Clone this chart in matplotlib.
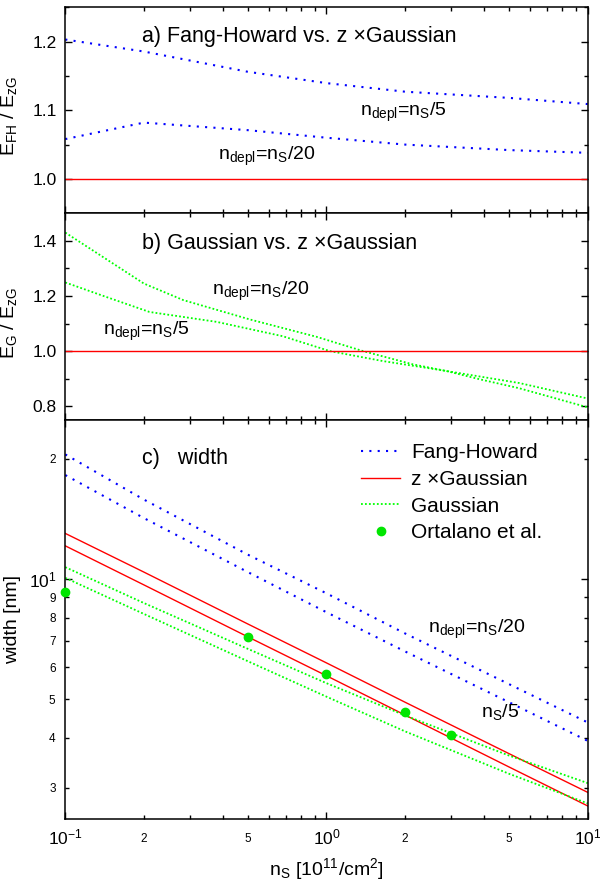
import numpy as np
import matplotlib
matplotlib.use("Agg")
import matplotlib.pyplot as plt
from matplotlib.ticker import FixedLocator, FuncFormatter, NullFormatter

plt.rcParams['font.family'] = ['Liberation Sans', 'DejaVu Sans']
plt.rcParams['mathtext.fontset'] = 'custom'
plt.rcParams['mathtext.rm'] = 'Liberation Sans'
plt.rcParams['mathtext.it'] = 'Liberation Sans:italic'
plt.rcParams['mathtext.default'] = 'regular'

# ---- data ----
# a) Fang-Howard / z x Gaussian energy ratio
ns_a = [0.1, 0.2, 0.5, 1, 2, 5, 10]
efh_5 = [1.203, 1.1855, 1.156, 1.1395, 1.127, 1.118, 1.109]
efh_20 = [1.058, 1.082, 1.071, 1.060, 1.050, 1.042, 1.038]

# b) Gaussian / z x Gaussian energy ratio
ns_b20 = [0.1, 0.2, 0.283, 0.508, 0.915, 1.38, 2.14, 2.87, 3.85, 5.48, 10]
eg_20 = [1.43, 1.245, 1.185, 1.115, 1.052, 1.0, 0.952, 0.928, 0.898, 0.865, 0.796]
ns_b5 = [0.1, 0.14, 0.21, 0.38, 0.68, 1.03, 1.64, 2.87, 5.48, 10]
eg_5 = [1.249, 1.20, 1.142, 1.106, 1.054, 1.0, 0.964, 0.928, 0.884, 0.828]

# c) widths [nm]
ns_c = [0.1, 0.2, 0.5, 1, 2, 5, 10]
fh_20 = [20.5, 15.8, 11.5, 9.2, 7.3, 5.45, 4.37]
fh_5 = [18.2, 14.2, 10.4, 8.25, 6.58, 4.91, 3.93]
zg_20 = [13.0, 10.4, 7.71, 6.16, 4.91, 3.65, 2.92]
zg_5 = [12.1, 9.66, 7.16, 5.72, 4.56, 3.38, 2.70]
g_20 = [10.7, 8.7, 6.68, 5.48, 4.55, 3.61, 3.08]
g_5 = [10.06, 8.17, 6.22, 5.07, 4.15, 3.25, 2.74]
ort_ns = [0.1, 0.5, 1, 2, 3]
ort_w = [9.26, 7.14, 5.77, 4.63, 4.07]

blue = '#0000ff'
red = '#ff0000'
green = '#00ff00'
blue_ls = (0, (1, 3))
green_ls = (0, (1, 1.2))

fig = plt.figure(figsize=(6, 8.82), dpi=100)
left, width = 0.1088, 0.8707
ax_a = fig.add_axes([left, 0.7582, width, 0.2336])
ax_b = fig.add_axes([left, 0.5238, width, 0.2344])
ax_c = fig.add_axes([left, 0.0711, width, 0.4527])

title_fs = 15.5
note_fs = 14

# panel a
ax_a.plot(ns_a, efh_5, color=blue, ls=blue_ls, lw=1.5)
ax_a.plot(ns_a, efh_20, color=blue, ls=blue_ls, lw=1.5)
ax_a.axhline(1.0, color=red, lw=1.0)
ax_a.set_ylim(0.95, 1.25)
ax_a.yaxis.set_major_locator(FixedLocator([1.0, 1.1, 1.2]))
ax_a.yaxis.set_minor_locator(FixedLocator([0.95, 1.05, 1.15, 1.25]))
ax_a.text(0.146, 0.857, 'a) Fang-Howard vs. z \u00d7Gaussian', transform=ax_a.transAxes,
          fontsize=title_fs, va='center', ha='left')
ax_a.text(1.34, 1.097, r'$n_{depl}$=$n_S$/5', fontsize=note_fs, va='center')
ax_a.text(0.384, 1.033, r'$n_{depl}$=$n_S$/20', fontsize=note_fs, va='center')
ax_a.set_ylabel(r'$E_{FH}$ / $E_{zG}$', fontsize=14)

# panel b
ax_b.plot(ns_b20, eg_20, color=green, ls=green_ls, lw=1.3)
ax_b.plot(ns_b5, eg_5, color=green, ls=green_ls, lw=1.3)
ax_b.axhline(1.0, color=red, lw=1.0)
ax_b.set_ylim(0.75, 1.5)
ax_b.yaxis.set_major_locator(FixedLocator([0.8, 1.0, 1.2, 1.4]))
ax_b.yaxis.set_minor_locator(FixedLocator([0.9, 1.1, 1.3]))
ax_b.text(0.146, 0.855, 'b) Gaussian vs. z \u00d7Gaussian', transform=ax_b.transAxes,
          fontsize=title_fs, va='center', ha='left')
ax_b.text(0.365, 1.216, r'$n_{depl}$=$n_S$/20', fontsize=note_fs, va='center')
ax_b.text(0.14, 1.072, r'$n_{depl}$=$n_S$/5', fontsize=note_fs, va='center')
ax_b.set_ylabel(r'$E_G$ / $E_{zG}$', fontsize=14)

# panel c
ax_c.plot(ns_c, fh_20, color=blue, ls=blue_ls, lw=1.5, label='Fang-Howard')
ax_c.plot(ns_c, fh_5, color=blue, ls=blue_ls, lw=1.5)
ax_c.plot(ns_c, zg_20, color=red, lw=1.0, label='z \u00d7Gaussian')
ax_c.plot(ns_c, zg_5, color=red, lw=1.0)
ax_c.plot(ns_c, g_20, color=green, ls=green_ls, lw=1.3, label='Gaussian')
ax_c.plot(ns_c, g_5, color=green, ls=green_ls, lw=1.3)
ax_c.plot(ort_ns, ort_w, 'o', color='#00e600', ms=6, ls='none',
          label='Ortalano et al.', clip_on=False, zorder=5)
ax_c.set_yscale('log')
ax_c.set_ylim(2.5, 25)
ax_c.yaxis.set_major_locator(FixedLocator([10]))
ax_c.yaxis.set_minor_locator(FixedLocator([3, 4, 5, 6, 7, 8, 9, 20]))
ax_c.yaxis.set_major_formatter(FuncFormatter(lambda v, p: r'$10^{1}$'))
ax_c.yaxis.set_minor_formatter(FuncFormatter(lambda v, p: '%d' % (v if v < 10 else v / 10)))
ax_c.text(0.146, 0.904, 'c)   width', transform=ax_c.transAxes,
          fontsize=title_fs, va='center', ha='left')
ax_c.text(2.45, 7.49, r'$n_{depl}$=$n_S$/20', fontsize=note_fs, va='center')
ax_c.text(3.90, 4.63, r'$n_S$/5', fontsize=note_fs, va='center')
ax_c.set_ylabel('width [nm]', fontsize=14)
ax_c.set_xlabel(r'$n_S$ [10$^{11}$/cm$^2$]', fontsize=14, labelpad=6)
leg = ax_c.legend(loc='upper left', bbox_to_anchor=(0.567, 0.9417), frameon=False,
                  fontsize=15, handlelength=1.85, handletextpad=0.53, labelspacing=0.37,
                  borderpad=0, borderaxespad=0)

for ax in (ax_a, ax_b, ax_c):
    ax.set_xscale('log')
    ax.set_xlim(0.1, 10)
    ax.xaxis.set_major_locator(FixedLocator([0.1, 1, 10]))
    ax.xaxis.set_minor_locator(FixedLocator([m * d for d in (0.1, 1) for m in range(2, 10)]))
    ax.tick_params(which='both', direction='in', top=True, right=True, width=1.0)
    ax.tick_params(which='major', length=5, labelsize=12.5, pad=6)
    ax.tick_params(which='minor', length=3, labelsize=8.5, pad=7)
    for s in ax.spines.values():
        s.set_linewidth(1.1)

for ax in (ax_a, ax_b):
    ax.xaxis.set_major_formatter(NullFormatter())
    ax.xaxis.set_minor_formatter(NullFormatter())
    ax.yaxis.set_label_coords(-0.089, 0.47)
    ax.yaxis.set_major_formatter(FuncFormatter(lambda v, p: '%.1f' % v))

ax_c.yaxis.set_label_coords(-0.085, 0.5)
ax_c.xaxis.set_major_formatter(FuncFormatter(lambda v, p: r'$10^{%d}$' % round(np.log10(v))))
ax_c.xaxis.set_minor_formatter(FuncFormatter(
    lambda v, p: ('%d' % round(v / 10 ** np.floor(np.log10(v) + 1e-9)))
    if round(v / 10 ** np.floor(np.log10(v) + 1e-9)) in (2, 5) else ''))
ax_c.tick_params(axis='x', which='minor', pad=10)

fig.savefig('out.png', dpi=100)
